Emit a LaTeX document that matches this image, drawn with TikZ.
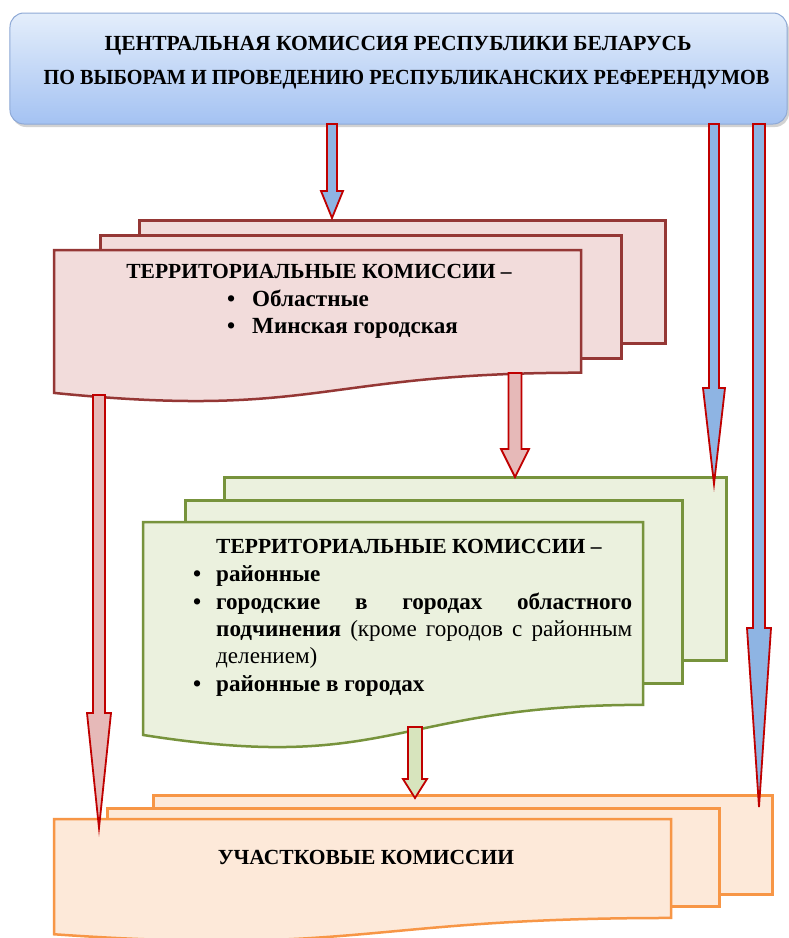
\documentclass[tikz,border=0pt]{standalone}
\usepackage{fontspec}
\setmainfont{Liberation Serif}
\usetikzlibrary{shadows,calc}
\definecolor{pinkfill}{HTML}{F2DCDB}
\definecolor{pinkline}{HTML}{953735}
\definecolor{pinkarr}{HTML}{E6B9B8}
\definecolor{greenfill}{HTML}{EBF1DE}
\definecolor{greenline}{HTML}{77933C}
\definecolor{greenarr}{HTML}{D7E4BD}
\definecolor{orfill}{HTML}{FDE9D9}
\definecolor{orline}{HTML}{F79646}
\definecolor{bluearr}{HTML}{8EB4E3}
\definecolor{arrline}{HTML}{C00000}
\definecolor{toptop}{HTML}{E4EEFB}
\definecolor{topbot}{HTML}{A4C2F2}
\definecolor{topline}{HTML}{8EA9D6}
% block arrow: style, start coordinate, end coordinate, head length, shaft half width, head half width
\newcommand\blockarr[6]{%
  \draw[#1] let \p1=(#2), \p2=(#3) in
    (\x1-#5,\y1) -- (\x1+#5,\y1) -- (\x1+#5,\y2+#4) -- (\x1+#6,\y2+#4) --
    (\x1,\y2) -- (\x1-#6,\y2+#4) -- (\x1-#5,\y2+#4) -- cycle;}
% document sheet with wavy bottom: style, left, right, top, height
\newcommand\docsheet[5]{%
  \draw[#1] (#2,#4) -- (#3,#4) -- (#3,{#4+0.802*#5})
    .. controls ({(#2+#3)/2},{#4+0.802*#5}) and ({(#2+#3)/2},{#4+1.107*#5}) ..
    (#2,{#4+0.934*#5}) -- cycle;}
\begin{document}
\begin{tikzpicture}[x=1bp,y=-1bp,
  txt/.style={font=\fontsize{21.6}{25}\selectfont\bfseries, inner sep=0pt, anchor=base},
  txtl/.style={txt, anchor=base west},
  lowl/.style={txtl, font=\fontsize{23.2}{27}\selectfont\bfseries},
  topbox/.style={draw=topline, line width=1bp, rounded corners=14bp, top color=toptop, bottom color=topbot,
    drop shadow={shadow xshift=2bp, shadow yshift=-3bp, opacity=0.35}},
  pinksheet/.style={draw=pinkline, fill=pinkfill, line width=2.5bp},
  greensheet/.style={draw=greenline, fill=greenfill, line width=2.5bp},
  orsheet/.style={draw=orline, fill=orfill, line width=2.5bp},
  backsheet/.style={inner sep=0pt, anchor=north west},
  barr/.style={draw=arrline, fill=bluearr, line width=1.8bp, line join=miter},
  parr/.style={draw=arrline, fill=pinkarr, line width=1.8bp, line join=miter},
  garr/.style={draw=arrline, fill=greenarr, line width=1.8bp, line join=miter}]
\useasboundingbox (0,0) rectangle (789,938);
\fill[white] (0,0) rectangle (789,938);

% top box
\node[topbox, minimum width=777bp, minimum height=111bp, inner sep=0pt] (cec) at (398.5,68.5) {};
\node[txt] (cec1) at (398,50) {ЦЕНТРАЛЬНАЯ КОМИССИЯ РЕСПУБЛИКИ БЕЛАРУСЬ};
\node[txt] (cec2) at (406.5,84) {\scalebox{0.94}[1]{ПО ВЫБОРАМ И ПРОВЕДЕНИЮ РЕСПУБЛИКАНСКИХ РЕФЕРЕНДУМОВ}};

% pink territorial (regional)
\node[backsheet, pinksheet, minimum width=526bp, minimum height=123bp] (pk3) at (138,219) {};
\node[backsheet, pinksheet, minimum width=521bp, minimum height=123bp] (pk2) at (99,234) {};
\docsheet{pinksheet}{54}{581}{250}{153}
\node[txt] (pkt) at (319,278) {ТЕРРИТОРИАЛЬНЫЕ КОМИССИИ –};
\node[lowl] (pka) at (252,306) {\llap{•\hspace{17bp}}Областные};
\node[lowl] (pkb) at (252,333) {\llap{•\hspace{17bp}}Минская городская};

% green territorial (district)
\node[backsheet, greensheet, minimum width=502bp, minimum height=183bp] (gr3) at (223,476) {};
\node[backsheet, greensheet, minimum width=497bp, minimum height=183bp] (gr2) at (184,499) {};
\docsheet{greensheet}{143}{643}{522}{228}
\node[txtl] (gr1) at (216,553) {ТЕРРИТОРИАЛЬНЫЕ КОМИССИИ –};
\node[lowl] (gra) at (216,581) {\llap{•\hspace{15bp}}районные};
\node[lowl] (grb) at (216,609) {\llap{•\hspace{15bp}}\makebox[416bp][s]{городские\hfill в\hfill городах\hfill областного}};
\node[lowl] (grc) at (216,636) {\makebox[416bp][s]{подчинения \mdseries(кроме городов с районным}};
\node[lowl, font=\fontsize{23.2}{27}\selectfont\mdseries] (grd) at (216,663) {делением)};
\node[lowl] (gre) at (216,691) {\llap{•\hspace{15bp}}районные в городах};

% orange precinct
\node[backsheet, orsheet, minimum width=619bp, minimum height=99bp] (or3) at (152,794) {};
\node[backsheet, orsheet, minimum width=612bp, minimum height=98bp] (or2) at (106,807) {};
\docsheet{orsheet}{54}{671}{819}{123.4}
\node[txt] (ort) at (366,864) {УЧАСТКОВЫЕ КОМИССИИ};

% arrow end points
\coordinate (a1s) at (332,124);  \coordinate (a1e) at (332,218);
\coordinate (a2s) at (714,124);  \coordinate (a2e) at (714,484);
\coordinate (a3s) at (759,124);  \coordinate (a3e) at (759,807);
\coordinate (a4s) at (99,395);   \coordinate (a4e) at (99,828);
\coordinate (a5s) at (515,373);  \coordinate (a5e) at (515,477);
\coordinate (a6s) at (415,727);  \coordinate (a6e) at (415,798);

\blockarr{barr}{a1s}{a1e}{27bp}{5bp}{11bp}
\blockarr{barr}{a2s}{a2e}{96bp}{5bp}{11bp}
\blockarr{barr}{a3s}{a3e}{179bp}{6bp}{12bp}
\blockarr{parr}{a4s}{a4e}{115bp}{6bp}{12bp}
\blockarr{parr}{a5s}{a5e}{28bp}{6.5bp}{14bp}
\blockarr{garr}{a6s}{a6e}{19bp}{7bp}{12bp}
\end{tikzpicture}
\end{document}
